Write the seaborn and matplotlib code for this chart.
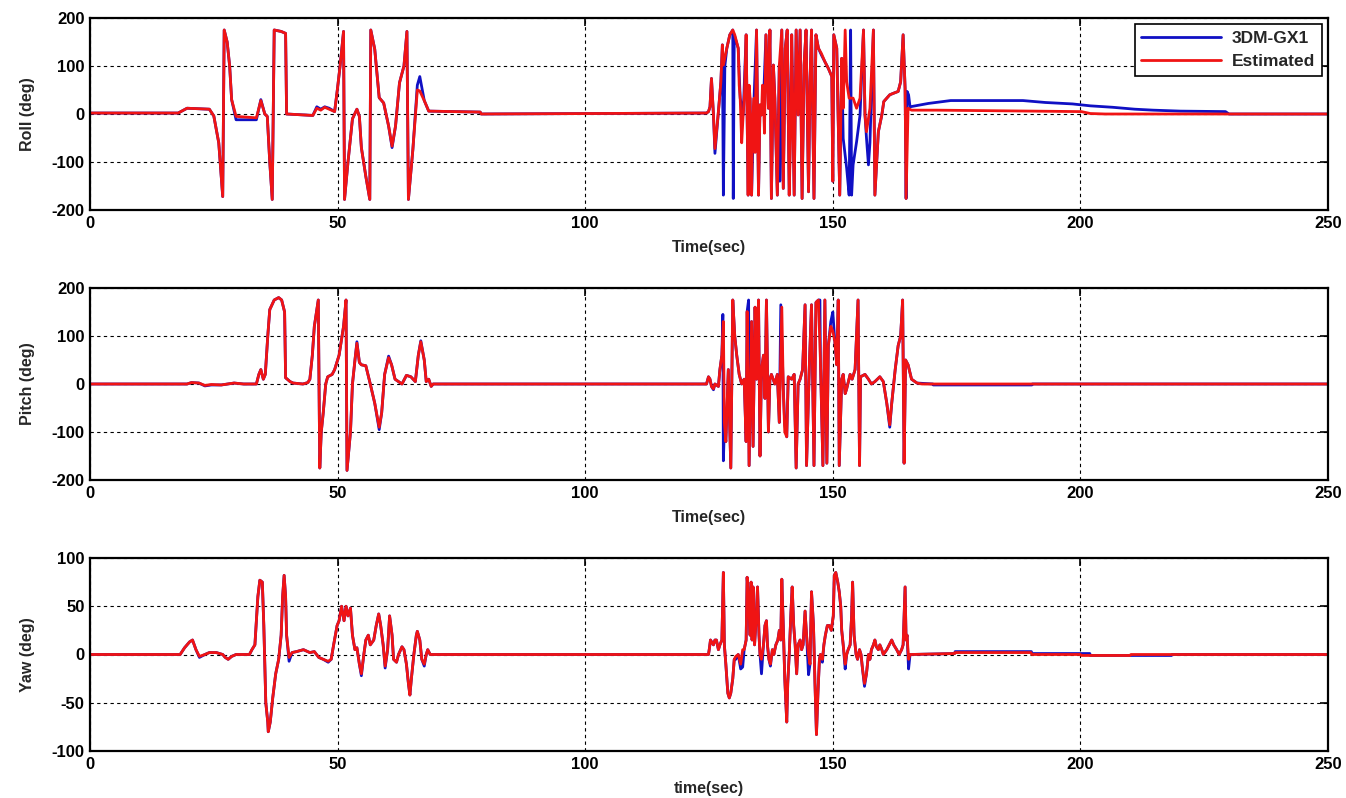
import matplotlib
matplotlib.use("Agg")
import matplotlib.pyplot as plt
import seaborn as sns

# ---------------- data (time in s, angle in deg) ----------------
roll_est_t = [0, 17.8, 19.6, 24.1, 25.0, 26.0, 26.8, 27.1, 27.7, 28.2, 28.6, 29.5, 33.6, 34.5, 35.3, 35.8,
              36.3, 36.8, 37.2, 38.6, 39.5, 39.7, 45.0, 45.8, 46.6, 47.4, 48.3, 49.4, 50.0, 50.5, 51.2,
              51.4, 52.1, 53.0, 53.9, 54.4, 54.8, 55.7, 56.5, 56.7, 57.5, 58.4, 59.3, 60.3, 61.0, 61.7,
              62.5, 63.4, 64.0, 64.3, 65.2, 66.1, 66.6, 67.5, 68.4, 78.8, 79.0, 124.5,
              124.9, 125.2, 125.5, 125.9, 126.2, 126.9, 127.4, 127.7, 127.9, 128.6, 129.2, 129.8, 130.2,
              130.9, 131.1, 131.3, 131.6, 131.9, 132.2, 132.5, 132.9, 133.1, 133.3, 133.6, 133.8, 134.1,
              134.3, 134.6, 135.0, 135.3, 135.6, 135.8, 136.0, 136.2, 136.5, 137.0, 137.3, 137.6, 138.0,
              138.3, 138.8, 139.2, 139.7, 140.0, 140.4, 140.8, 141.2, 141.5, 141.7, 142.2, 142.6, 143.0,
              143.4, 143.8, 144.2, 144.6, 145.1, 145.4, 145.7, 146.2, 146.6, 147.1, 147.7, 148.4, 149.1,
              149.8, 150.0, 150.2, 150.8, 151.4, 151.8, 152.1, 152.5, 152.8, 153.3, 154.1, 154.8, 155.5,
              156.2, 156.5, 156.8, 157.5, 158.2, 158.5, 159.2, 159.9, 160.3, 160.9, 161.5, 162.2, 163.2,
              163.7, 164.2, 164.6, 164.8, 165.2, 165.9, 171.0, 200.2, 202.0, 205.0, 250.0]
roll_est_v = [2, 2, 12, 10, -4, -60, -172, 175, 150, 100, 30, -5, -8, 28, 0, -5,
              -100, -178, 175, 172, 168, 0, -3, 12, 8, 14, 10, 5, 55, 100, 172,
              -178, -100, -10, 10, -5, -70, -130, -178, 175, 135, 34, 23, -25, -67, -25,
              65, 100, 172, -178, -74, 50, 48, 28, 6, 4, 0, 2,
              5, 15, 74, -2, -72, 5, 67, 144, 102, 137, 165, 175, 165,
              137, 60, 33, -60, -2, 50, 165, -169, 60, 33, -169, -20, 33,
              -80, 175, -169, 19, -2, 60, 26, -40, 165, 12, 175, -176, 102,
              33, -169, 102, 175, -155, 137, 175, -169, -30, 165, -169, 175, -2,
              175, -176, 102, 175, -162, 67, 175, -176, 165, 137, 126, 109, 95,
              78, -140, 165, 137, -169, 116, 12, 175, 67, 33, 33, 12, 33,
              175, -2, -37, 12, 175, -169, -37, -2, 26, 33, 40, 43, 47,
              67, 165, 53, -176, 12, 8, 8, 5, 1, 0, 0]

roll_gx1_t = [0, 17.8, 19.6, 24.1, 25.0, 26.0, 26.8, 27.1, 27.7, 28.2, 28.6, 29.5, 33.6, 34.5, 35.3, 35.8,
              36.3, 36.8, 37.2, 38.6, 39.5, 39.7, 45.0, 45.8, 46.6, 47.4, 48.3, 49.4, 50.0, 50.5, 51.2,
              51.4, 52.1, 53.0, 53.9, 54.4, 54.8, 55.7, 56.5, 56.7, 57.5, 58.4, 59.3, 60.3, 61.0, 61.7,
              62.5, 63.4, 64.0, 64.3, 65.2, 66.1, 66.6, 67.5, 68.4, 78.8, 79.0, 124.5,
              124.9, 125.2, 125.5, 125.9, 126.2, 126.9, 127.4, 127.7, 127.9, 128.2, 128.6, 129.2, 129.8,
              129.9, 130.1, 130.9, 131.3, 131.9, 132.5, 132.9, 133.3, 133.6, 134.1, 134.6, 135.0, 135.3,
              135.6, 136.0, 136.5, 137.0, 137.3, 137.6, 138.0, 138.3, 138.8, 139.2, 139.3, 139.7, 140.0,
              140.4, 140.8, 141.2, 141.7, 142.2, 142.6, 143.0, 143.4, 143.8, 144.2, 144.6, 145.1, 145.4,
              145.7, 146.2, 146.6, 147.1, 147.7, 148.4, 149.1, 149.8, 150.0, 150.2, 150.8, 151.4, 151.8,
              152.1, 152.8, 153.3, 153.6, 153.8, 154.1, 154.8, 155.5, 156.2, 156.5, 156.8, 157.2, 157.5,
              158.2, 158.5, 159.2, 159.9, 160.3, 160.9, 161.5, 162.2, 163.2, 163.7, 164.2, 164.6, 164.8,
              165.0, 165.3, 165.6, 169.3, 173.8, 188.4, 192.9, 198.4, 202.0, 206.5, 211.0, 214.7, 220.2,
              229.3, 230.0, 250.0]
roll_gx1_v = [2, 2, 12, 10, -4, -60, -172, 175, 150, 100, 30, -12, -12, 30, 0, -5,
              -100, -178, 175, 172, 168, 0, -3, 15, 10, 15, 12, 5, 55, 100, 172,
              -178, -100, -10, 10, -5, -70, -130, -178, 175, 135, 34, 23, -25, -70, -25,
              65, 100, 172, -178, -74, 60, 78, 28, 6, 4, 0, 2,
              5, 15, 74, -2, -82, 5, 67, 144, -169, 100, 137, 165, 175,
              -176, 165, 137, 33, -2, 165, -169, 33, -169, 33, 175, -169, 19,
              -2, 26, 165, 12, 175, -176, 102, 33, -169, 102, -140, 175, -155,
              137, 175, -169, 165, -169, 175, -2, 175, -176, 102, 175, -162, 67,
              175, -176, 165, 137, 123, 109, 95, 78, -140, 165, 137, -169, 116,
              -51, -113, -169, 175, -169, -106, -58, -2, 175, -2, -50, -106, -60,
              175, -169, -37, -2, 26, 33, 40, 43, 47, 67, 165, 53, -176,
              47, 40, 15, 22, 28, 28, 24, 21, 17, 14, 10, 8, 6,
              5, 0, 0]

pitch_est_t = [0, 19.6, 20.5, 22.0, 23.2, 24.5, 26.5, 29.1, 31.0, 33.6, 34.1, 34.5, 35.0, 35.4, 35.9, 36.3,
               37.2, 38.1, 38.7, 39.3, 39.5, 40.4, 41.0, 43.0, 44.0, 44.4, 44.9, 45.3, 46.1, 46.4, 46.7,
               47.1, 47.6, 48.0, 48.9, 49.4, 50.3, 51.2, 51.7, 51.9, 52.6, 53.0, 53.5, 53.9, 54.4, 54.8,
               55.7, 56.6, 57.5, 58.4, 58.9, 59.5, 60.3, 60.9, 61.6, 63.0, 63.9, 64.8, 65.7, 66.3, 66.8,
               67.5, 67.9, 68.4, 68.9, 69.3, 124.5,
               124.9, 125.2, 125.5, 125.9, 126.2, 126.9, 127.2, 127.6, 127.9, 128.1, 128.4, 128.9, 129.4,
               129.8, 130.2, 130.6, 131.1, 131.6, 132.1, 132.5, 132.7, 133.1, 133.6, 133.9, 134.3, 134.6,
               135.0, 135.3, 135.6, 136.0, 136.3, 136.6, 137.0, 137.3, 137.6, 138.3, 138.8, 139.2, 139.7,
               140.0, 140.3, 140.7, 141.0, 141.7, 142.2, 142.6, 143.0, 143.4, 143.9, 144.4, 144.7, 145.3,
               145.7, 146.2, 146.6, 147.1, 147.5, 148.0, 148.4, 148.8, 149.1, 149.6, 150.0, 150.4, 150.8,
               151.1, 151.3, 151.8, 152.1, 152.5, 152.8, 153.5, 153.9, 154.5, 155.1, 155.4, 155.6, 156.5,
               157.2, 157.8, 158.5, 159.5, 160.2, 160.9, 161.5, 161.9, 162.6, 163.2, 163.7, 164.1, 164.4,
               164.7, 165.2, 165.9, 167.0, 168.0, 250.0]
pitch_est_v = [0, 0, 3, 2, -3, -1, -2, 2, 0, 0, 20, 30, 10, 20, 100, 155,
               175, 180, 175, 150, 13, 5, 2, 0, 3, 10, 60, 120, 175, -175, -100,
               -60, 0, 15, 20, 30, 60, 120, 175, -180, -100, 0, 50, 85, 45, 40,
               38, 0, -40, -90, -60, 20, 55, 40, 10, 0, 18, 15, 5, 60, 88,
               50, 5, 10, -5, 0, 0,
               15, 10, -5, -10, 0, -5, 30, 60, 130, -80, -120, 30, -175,
               175, 100, 60, 20, 0, 10, -120, 151, -170, 130, -130, 160, 10,
               175, -150, 30, 60, -30, 175, -100, 10, 20, 0, 20, -80, 160,
               -10, -100, -110, 15, 10, 20, -175, 0, 10, 30, 165, -170, 50,
               165, -170, 170, 175, 50, -170, 175, -165, 80, 120, 110, 90, 40,
               175, -170, 10, 20, -20, -10, 20, 10, 30, 175, -170, 15, 20,
               10, 0, 5, 15, 5, -40, -85, -40, 30, 80, 100, 175, -165,
               50, 40, 10, 2, 0, 0]

pitch_gx1_t = [0, 19.6, 20.5, 22.0, 23.2, 24.5, 26.5, 29.1, 31.0, 33.6, 34.1, 34.5, 35.0, 35.4, 35.9, 36.3,
               37.2, 38.1, 38.7, 39.3, 39.5, 40.4, 41.0, 43.0, 44.0, 44.4, 44.9, 45.3, 46.1, 46.4, 46.7,
               47.1, 47.6, 48.0, 48.9, 49.4, 50.3, 51.2, 51.7, 51.9, 52.6, 53.0, 53.5, 53.9, 54.4, 54.8,
               55.7, 56.6, 57.5, 58.4, 58.9, 59.5, 60.3, 60.9, 61.6, 63.0, 63.9, 64.8, 65.7, 66.3, 66.8,
               67.5, 67.9, 68.4, 68.9, 69.3, 124.5,
               124.9, 125.2, 125.5, 125.9, 126.2, 126.9, 127.2, 127.6, 127.8, 127.9, 128.1, 128.4, 128.9,
               129.4, 129.8, 130.2, 130.6, 131.1, 131.6, 132.1, 132.5, 132.7, 133.0, 133.1, 133.6, 133.9,
               134.3, 134.6, 135.0, 135.3, 135.6, 136.0, 136.3, 136.6, 137.0, 137.3, 137.6, 138.3, 138.8,
               139.2, 139.5, 140.0, 140.3, 140.7, 141.0, 141.7, 142.2, 142.6, 143.0, 143.4, 143.9, 144.4,
               144.7, 145.3, 145.7, 146.2, 146.6, 147.1, 147.4, 147.5, 148.0, 148.4, 148.8, 149.1, 149.6,
               150.0, 150.4, 150.8, 151.1, 151.3, 151.8, 152.1, 152.5, 152.8, 153.5, 153.9, 154.5, 155.1,
               155.4, 155.6, 156.5, 157.2, 157.8, 158.5, 159.5, 160.2, 160.9, 161.5, 161.9, 162.6, 163.2,
               163.7, 164.1, 164.4, 164.7, 165.2, 165.9, 167.0, 170.2, 170.3, 190.2, 190.3, 250.0]
pitch_gx1_v = [0, 0, 3, 2, -4, -2, -2, 2, 0, 0, 20, 30, 10, 20, 100, 155,
               175, 180, 175, 150, 13, 5, 2, 0, 3, 10, 60, 120, 175, -175, -100,
               -60, 0, 15, 20, 30, 60, 120, 175, -180, -100, 0, 50, 88, 45, 40,
               38, 0, -40, -95, -60, 20, 58, 40, 10, 0, 18, 15, 5, 60, 90,
               50, 5, 10, -5, 0, 0,
               15, 10, -5, -12, 0, -5, 30, 60, 145, -160, -95, -120, 30,
               -175, 175, 100, 60, 20, 0, 10, -120, 151, 175, -170, 130, -130,
               160, 10, 175, -150, 30, 60, -30, 175, -100, 10, 20, 0, 20,
               -80, 165, -10, -85, -110, 15, 10, 20, -175, 0, 10, 30, 165,
               -170, 50, 165, -170, 170, 175, 175, 50, -170, 175, -165, 80, 130,
               150, 90, 40, 175, -170, 10, 20, -20, -10, 20, 10, 30, 175,
               -170, 15, 20, 10, 0, 5, 15, 5, -40, -90, -40, 30, 80,
               100, 175, -165, 50, 40, 10, 2, 0, -2, -2, 0, 0]

yaw_est_t = [0, 18.2, 19.1, 20.1, 20.7, 21.4, 22.1, 23.2, 24.1, 25.5, 26.8, 27.3, 27.9, 28.6, 29.5, 32.2,
             32.7, 33.3, 33.9, 34.3, 34.8, 35.1, 35.5, 35.9, 36.0, 36.4, 36.9, 37.5, 38.1, 38.6, 38.9,
             39.2, 39.5, 39.7, 40.2, 40.8, 41.7, 43.1, 44.4, 45.3, 46.2, 47.1, 48.1, 48.7, 49.2, 49.9,
             50.3, 50.8, 51.3, 51.7, 52.1, 52.6, 53.0, 53.5, 53.9, 54.4, 54.8, 55.3, 55.7, 56.2, 56.6,
             57.3, 57.8, 58.3, 58.7, 59.2, 59.6, 60.1, 60.5, 61.0, 61.3, 61.9, 62.3, 63.0, 63.4, 63.9,
             64.3, 64.6, 64.9, 65.4, 65.9, 66.1, 66.6, 67.0, 67.5, 67.9, 68.2, 68.7, 69.3, 124.9,
             125.1, 125.3, 125.9, 126.2, 126.5, 126.9, 127.2, 127.6, 127.9, 128.1, 128.4, 128.8, 129.1,
             129.4, 129.8, 130.1, 130.4, 130.9, 131.4, 131.8, 132.1, 132.5, 132.7, 133.0, 133.3, 133.5,
             133.7, 133.9, 134.2, 134.5, 134.8, 135.1, 135.3, 135.6, 136.0, 136.3, 136.6, 136.8, 137.1,
             137.4, 137.8, 138.1, 138.5, 138.9, 139.2, 139.5, 139.7, 140.0, 140.3, 140.7, 140.9, 141.2,
             141.6, 141.8, 142.1, 142.4, 142.7, 143.0, 143.4, 143.7, 144.0, 144.4, 144.7, 145.1, 145.4,
             145.7, 146.1, 146.4, 146.7, 147.0, 147.3, 147.5, 147.9, 148.2, 148.5, 148.9, 149.3, 149.7,
             150.1, 150.3, 150.6, 151.0, 151.3, 151.6, 151.8, 152.1, 152.5, 152.8, 153.1, 153.5, 153.8,
             154.0, 154.3, 154.7, 155.0, 155.4, 155.7, 156.0, 156.4, 156.8, 157.2, 157.5, 157.8, 158.2,
             158.5, 158.8, 159.2, 159.5, 159.9, 160.2, 160.9, 161.4, 161.9, 162.3, 162.9, 163.4, 163.9,
             164.2, 164.6, 164.8, 165.0, 165.3, 165.6, 174.6, 174.7, 190.0, 190.2, 200.0, 200.2, 210.0,
             210.2, 250.0]
yaw_est_v = [0, 0, 7, 13, 15, 5, -2, 0, 2, 2, 0, -3, -5, -2, 0, 0,
             5, 10, 60, 77, 75, 30, -50, -70, -80, -70, -45, -20, -5, 20, 60,
             82, 60, 20, -3, 2, 3, 5, 2, 3, -3, -5, -7, -5, 10, 30,
             35, 50, 35, 50, 40, 48, 20, 5, 7, -10, -20, 0, 15, 20, 10,
             15, 30, 42, 30, 10, -12, 5, 40, 20, -5, -8, 0, 8, 5, -10,
             -30, -42, -25, 0, 20, 24, 15, -5, -10, 0, 5, 0, 0, 0,
             7, 15, 10, 15, 15, 5, 10, 15, 85, 10, -10, -40, -45,
             -40, -25, -5, -2, 0, -10, 5, 5, 15, 80, 55, 20, 75,
             15, 70, 10, 35, 70, 20, 0, -5, 10, 30, 35, 10, -5,
             -10, 5, 0, 10, 15, 25, 15, 78, 30, -25, -70, -30, 0,
             50, 70, 30, 10, -20, 10, 15, 5, 10, 45, 20, 0, -10,
             65, 30, -30, -83, -40, -5, 0, -5, 10, 20, 30, 30, 25,
             40, 82, 85, 75, 65, 50, 25, 10, -10, 0, 5, 10, 40,
             75, 20, 0, -5, 5, 0, -15, -30, -20, 0, -5, 5, 10,
             15, 8, 5, 10, 5, 0, 5, 10, 15, 10, 5, 0, 5,
             10, 70, 15, 20, -5, 0, 1, 2, 2, 0, 0, -1, -1,
             0, 0]

yaw_gx1_t = [0, 18.2, 19.1, 20.1, 20.7, 21.4, 22.1, 23.2, 24.1, 25.5, 26.8, 27.3, 27.9, 28.6, 29.5, 32.2,
             32.7, 33.3, 33.9, 34.3, 34.8, 35.1, 35.5, 35.9, 36.0, 36.4, 36.9, 37.5, 38.1, 38.6, 38.9,
             39.2, 39.5, 39.7, 40.2, 40.8, 41.7, 43.1, 44.4, 45.3, 46.2, 47.1, 48.1, 48.7, 49.2, 49.9,
             50.3, 50.8, 51.3, 51.7, 52.1, 52.6, 53.0, 53.5, 53.9, 54.4, 54.8, 55.3, 55.7, 56.2, 56.6,
             57.3, 57.8, 58.3, 58.7, 59.2, 59.6, 60.1, 60.5, 61.0, 61.3, 61.9, 62.3, 63.0, 63.4, 63.9,
             64.3, 64.6, 64.9, 65.4, 65.9, 66.1, 66.6, 67.0, 67.5, 67.9, 68.2, 68.7, 69.3, 124.9,
             125.1, 125.3, 125.9, 126.2, 126.5, 126.9, 127.2, 127.6, 127.9, 128.1, 128.4, 128.8, 129.1,
             129.4, 129.8, 130.1, 130.4, 130.9, 131.4, 131.8, 132.1, 132.5, 132.7, 133.0, 133.3, 133.5,
             133.7, 133.9, 134.2, 134.5, 134.8, 135.1, 135.3, 135.6, 136.0, 136.3, 136.6, 136.8, 137.1,
             137.4, 137.8, 138.1, 138.5, 138.9, 139.2, 139.5, 139.7, 140.0, 140.3, 140.7, 140.9, 141.2,
             141.6, 141.8, 142.1, 142.4, 142.7, 143.0, 143.4, 143.7, 144.0, 144.4, 144.7, 145.1, 145.4,
             145.7, 146.1, 146.4, 146.7, 147.0, 147.3, 147.5, 147.9, 148.2, 148.5, 148.9, 149.3, 149.7,
             150.1, 150.3, 150.6, 151.0, 151.3, 151.6, 151.8, 152.1, 152.5, 152.8, 153.1, 153.5, 153.8,
             154.0, 154.3, 154.7, 155.0, 155.4, 155.7, 156.0, 156.4, 156.8, 157.2, 157.5, 157.8, 158.2,
             158.5, 158.8, 159.2, 159.5, 159.9, 160.2, 160.9, 161.4, 161.9, 162.3, 162.9, 163.4, 163.9,
             164.2, 164.6, 164.8, 165.0, 165.3, 165.6, 174.6, 174.7, 190.1, 190.2, 201.9, 202.0, 218.4,
             218.5, 250.0]
yaw_gx1_v = [0, 0, 7, 13, 15, 5, -3, 0, 2, 2, 0, -3, -5, -2, 0, 0,
             5, 10, 60, 77, 75, 30, -50, -70, -80, -70, -45, -20, -5, 20, 60,
             82, 60, 20, -7, 2, 3, 5, 2, 3, -3, -5, -8, -5, 10, 30,
             35, 50, 35, 50, 40, 48, 20, 5, 7, -10, -22, 0, 15, 20, 10,
             15, 30, 42, 30, 10, -14, 5, 40, 20, -5, -8, 0, 8, 5, -10,
             -30, -42, -25, 0, 20, 24, 15, -5, -12, 0, 5, 0, 0, 0,
             7, 15, 10, 15, 15, 5, 10, 15, 85, 10, -10, -40, -45,
             -40, -25, -5, -5, 0, -15, -13, 5, 15, 80, 55, 20, 75,
             15, 70, 10, 35, 70, 20, 0, -20, 10, 30, 35, 10, -5,
             -12, 5, 0, 10, 15, 25, 15, 78, 30, -25, -70, -30, 0,
             50, 70, 30, 10, -20, 10, 15, 5, 10, 45, 20, -21, -10,
             65, 30, -30, -83, -40, -5, 0, -8, 10, 20, 30, 30, 25,
             40, 82, 85, 75, 65, 50, 25, 10, -15, 0, 5, 10, 40,
             75, 20, 0, -5, 5, 0, -15, -33, -20, 0, -5, 5, 10,
             15, 8, 5, 10, 5, 0, 5, 10, 15, 10, 5, 0, 5,
             10, 70, 15, 20, -15, 0, 1, 3, 3, 1, 1, -1, -1,
             0, 0]

panels = ["Roll (deg)", "Pitch (deg)", "Yaw (deg)"]
xlabels = ["Time(sec)", "Time(sec)", "time(sec)"]
x_ticks = [0, 50, 100, 150, 200, 250]
y_ticks = [[-200, -100, 0, 100, 200], [-200, -100, 0, 100, 200], [-100, -50, 0, 50, 100]]
series_names = ["3DM-GX1", "Estimated"]

# ---------------- figure ----------------
sns.set_style("white")
plt.rcParams["font.family"] = ["Liberation Sans", "DejaVu Sans"]
plt.rcParams["font.weight"] = "bold"
plt.rcParams["axes.unicode_minus"] = False

fig = plt.figure(figsize=(13.46, 7.98), dpi=100)
W, H = 1346, 798
boxes = [(18, 210), (288, 480), (558, 751)]
axes = [fig.add_axes([90 / W, 1 - b / H, (1328 - 90) / W, (b - t) / H]) for t, b in boxes]

data = [(roll_gx1_t, roll_gx1_v, roll_est_t, roll_est_v),
        (pitch_gx1_t, pitch_gx1_v, pitch_est_t, pitch_est_v),
        (yaw_gx1_t, yaw_gx1_v, yaw_est_t, yaw_est_v)]

blue = "#1010c4"
red = "#f01414"

for i, ax in enumerate(axes):
    gt, gv, et, ev = data[i]
    sns.lineplot(x=gt, y=gv, ax=ax, sort=False, estimator=None, color=blue, linewidth=2.0,
                 label=series_names[0] if i == 0 else None, legend=False)
    sns.lineplot(x=et, y=ev, ax=ax, sort=False, estimator=None, color=red, linewidth=2.0,
                 label=series_names[1] if i == 0 else None, legend=False)
    ax.set_xlim(0, 250)
    ax.set_ylim(y_ticks[i][0], y_ticks[i][-1])
    ax.set_xticks(x_ticks)
    ax.set_yticks(y_ticks[i])
    ax.grid(True, color="black", linestyle=(0, (3, 3)), linewidth=0.8)
    ax.tick_params(direction="in", length=6, width=1.2, top=True, right=True,
                   labelsize=12, pad=4, colors="black")
    for lab in ax.get_xticklabels() + ax.get_yticklabels():
        lab.set_fontweight("bold")
    for sp in ax.spines.values():
        sp.set_visible(True)
        sp.set_color("black")
        sp.set_linewidth(1.6)
    ax.set_xlabel(xlabels[i], fontsize=11.5, fontweight="bold", labelpad=7)
    ax.set_ylabel(panels[i], fontsize=11.5, fontweight="bold", labelpad=12)

leg = axes[0].legend(loc="upper right", frameon=True, fancybox=False,
                     edgecolor="black", framealpha=1, handlelength=4.6, borderaxespad=0.35,
                     handletextpad=0.6, labelspacing=0.45,
                     prop={"weight": "bold", "size": 12.5})
leg.get_frame().set_linewidth(1.2)

fig.savefig("out.png", dpi=100, facecolor="white")
